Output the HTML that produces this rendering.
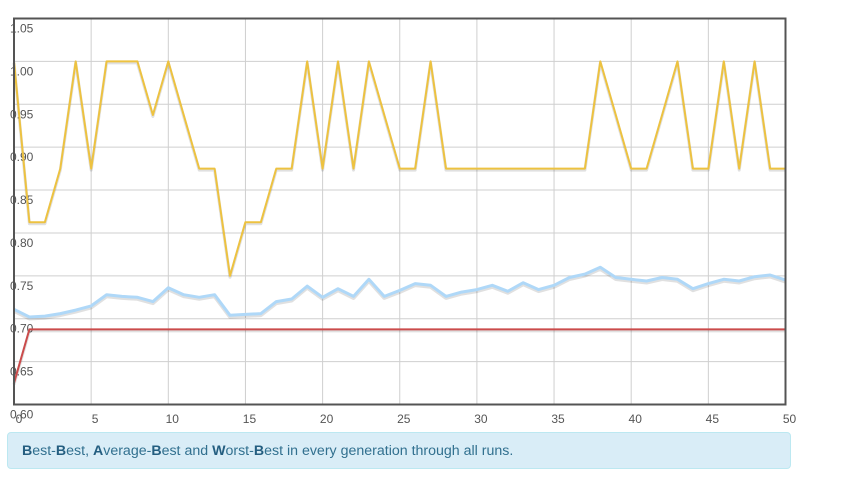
<!DOCTYPE html>
<html><head><meta charset="utf-8"><style>
body{margin:0;background:#fff;width:851px;height:492px;overflow:hidden;font-family:"Liberation Sans",sans-serif;}
#legend{position:absolute;left:7px;top:432px;width:782px;height:35px;background:#d9edf7;border:1px solid #bce8f1;border-radius:4px;color:#31708f;font-size:14.2px;line-height:36px;box-sizing:content-box;}
#legend span.t{margin-left:14px}
b{color:#245e80}
</style></head><body>
<svg id="chart" width="851" height="430" style="position:absolute;left:0;top:0"></svg>
<div id="legend"><span class="t"><b>B</b>est-<b>B</b>est, <b>A</b>verage-<b>B</b>est and <b>W</b>orst-<b>B</b>est in every generation through all runs.</span></div>
<script>
const xTicks=[0,5,10,15,20,25,30,35,40,45,50];
const yTicks=[0.60,0.65,0.70,0.75,0.80,0.85,0.90,0.95,1.00,1.05];
const bestBest=[1,0.8125,0.8125,0.875,1,0.875,1,1,1,0.9375,1,0.9375,0.875,0.875,0.75,0.8125,0.8125,0.875,0.875,1,0.875,1,0.875,1,0.9375,0.875,0.875,1,0.875,0.875,0.875,0.875,0.875,0.875,0.875,0.875,0.875,0.875,1,0.9375,0.875,0.875,0.9375,1,0.875,0.875,1,0.875,1,0.875,0.875];
const avgBest=[0.711,0.702,0.703,0.706,0.710,0.715,0.728,0.726,0.725,0.720,0.736,0.728,0.725,0.728,0.704,0.705,0.706,0.720,0.723,0.738,0.725,0.735,0.726,0.746,0.726,0.733,0.741,0.739,0.726,0.731,0.734,0.739,0.732,0.742,0.734,0.739,0.748,0.752,0.760,0.748,0.746,0.744,0.748,0.746,0.735,0.741,0.746,0.744,0.749,0.751,0.745];
const worstBest=[0.625,0.6875,0.6875,0.6875,0.6875,0.6875,0.6875,0.6875,0.6875,0.6875,0.6875,0.6875,0.6875,0.6875,0.6875,0.6875,0.6875,0.6875,0.6875,0.6875,0.6875,0.6875,0.6875,0.6875,0.6875,0.6875,0.6875,0.6875,0.6875,0.6875,0.6875,0.6875,0.6875,0.6875,0.6875,0.6875,0.6875,0.6875,0.6875,0.6875,0.6875,0.6875,0.6875,0.6875,0.6875,0.6875,0.6875,0.6875,0.6875,0.6875,0.6875];
const L=14,R=785.5,T=18.5,B=404.5,Y0=0.60,Y1=1.05;
const X=v=>L+(R-L)*v/50;
const Y=v=>B-(B-T)*(v-Y0)/(Y1-Y0);
const svg=document.getElementById('chart');const NS='http://www.w3.org/2000/svg';
function mk(t,a){const e=document.createElementNS(NS,t);for(const k in a)e.setAttribute(k,a[k]);svg.appendChild(e);return e;}
xTicks.forEach(t=>{const l=mk('line',{x1:X(t),x2:X(t),y1:T,y2:B,stroke:'#cfcfcf','stroke-width':1});


const tx=mk('text',{x:X(t)+(t==0?5:4),y:423,'font-size':12,fill:'#555','text-anchor':'middle','font-family':'Liberation Sans'});tx.textContent=t;

});
yTicks.forEach(t=>{const l=mk('line',{x1:L,x2:R,y1:Y(t),y2:Y(t),stroke:'#cfcfcf','stroke-width':1});


const tx=mk('text',{x:10,y:Y(t)+14,'font-size':12,fill:'#555','font-family':'Liberation Sans'});tx.textContent=t.toFixed(2);

});
function line(d,c,w,name){const p=d.map((v,i)=>X(i).toFixed(1)+','+Y(v).toFixed(1)).join(' ');
const s=mk('polyline',{points:p,fill:'none',stroke:'rgba(0,0,0,0.12)','stroke-width':w+1,transform:'translate(0,1.5)','stroke-linejoin':'round'});


const e=mk('polyline',{points:p,fill:'none',stroke:c,'stroke-width':w,'stroke-linejoin':'round'});

}
line(worstBest,'#cb4b4b',2,'worst-best-line');
line(avgBest,'#afd8f8',3,'average-best-line');
line(bestBest,'#edc240',2,'best-best-line');
const f=mk('rect',{x:L,y:T,width:R-L,height:B-T,fill:'none',stroke:'#545454','stroke-width':2});


</script>
</body></html>
